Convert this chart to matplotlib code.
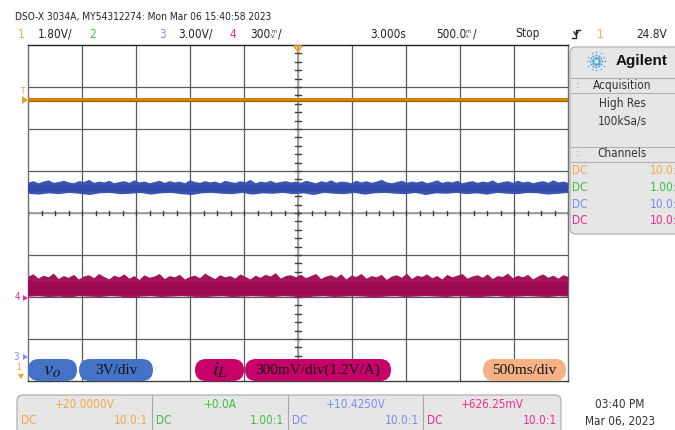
import numpy as np
import matplotlib
matplotlib.use('Agg')
import matplotlib.pyplot as plt
from matplotlib.patches import FancyBboxPatch, Polygon
from matplotlib.transforms import IdentityTransform

W, H = 675, 430

# screen traces, in divisions from centre line (8 div tall, 10 div wide)
t_start, t_stop = 0.5, 5.5          # 500 ms/div, centre 3.000 s
ch1_level = 2.68                    # orange trace (flat)

ch3_core = (0.50, 0.70)             # blue band, dense part
ch3_top = [0.74, 0.77, 0.72, 0.76, 0.79, 0.73, 0.75, 0.78, 0.74, 0.72, 0.77, 0.75, 0.80, 0.73,
           0.76, 0.74, 0.78, 0.72, 0.75, 0.77, 0.73, 0.79, 0.74, 0.76, 0.72, 0.75, 0.78, 0.73,
           0.77, 0.74, 0.76, 0.72, 0.79, 0.75, 0.73, 0.77, 0.74, 0.76, 0.72, 0.78, 0.75, 0.73,
           0.77, 0.74, 0.80, 0.72, 0.76, 0.74, 0.78, 0.73, 0.75, 0.77, 0.74, 0.76, 0.73, 0.78,
           0.75, 0.72, 0.77, 0.74, 0.79, 0.73, 0.76, 0.75, 0.72, 0.78, 0.74, 0.77, 0.73, 0.76,
           0.80, 0.74, 0.72, 0.75, 0.78, 0.73, 0.76, 0.74, 0.77, 0.72, 0.75, 0.79, 0.73, 0.76,
           0.74, 0.78, 0.72, 0.75, 0.77, 0.73, 0.76, 0.74, 0.79, 0.72, 0.75, 0.77, 0.73, 0.78,
           0.74, 0.76, 0.72, 0.75, 0.77, 0.73, 0.79, 0.74, 0.76, 0.73]
ch3_bot = [0.47, 0.45, 0.48, 0.46, 0.49, 0.47, 0.44, 0.48, 0.49, 0.46, 0.47, 0.49, 0.45, 0.48,
           0.49, 0.46, 0.44, 0.48, 0.49, 0.47, 0.46, 0.49, 0.45, 0.48, 0.47, 0.49, 0.46, 0.48,
           0.44, 0.49, 0.47, 0.46, 0.49, 0.45, 0.48, 0.49, 0.47, 0.46, 0.49, 0.44, 0.48, 0.47,
           0.49, 0.46, 0.48, 0.45, 0.49, 0.47, 0.46, 0.49, 0.48, 0.45, 0.47, 0.49]

ch4_core = (-1.96, -1.60)           # magenta band, dense part
ch4_top = [-1.50, -1.45, -1.55, -1.48, -1.52, -1.43, -1.56, -1.49, -1.53, -1.46, -1.57, -1.50,
           -1.47, -1.54, -1.44, -1.51, -1.57, -1.48, -1.52, -1.45, -1.55, -1.49, -1.58, -1.47,
           -1.53, -1.50, -1.44, -1.56, -1.49, -1.52, -1.46, -1.57, -1.51, -1.48, -1.54, -1.43,
           -1.50, -1.56, -1.47, -1.52, -1.49, -1.55, -1.45, -1.51, -1.57, -1.48, -1.53, -1.46,
           -1.50, -1.42, -1.55, -1.49, -1.47, -1.52, -1.46, -1.54, -1.49, -1.44, -1.56, -1.50,
           -1.47, -1.53, -1.45, -1.57, -1.48, -1.51, -1.44, -1.55, -1.49, -1.52, -1.46, -1.58,
           -1.50, -1.47, -1.53, -1.43, -1.56, -1.48, -1.51, -1.45, -1.54, -1.49, -1.57, -1.46,
           -1.52, -1.48, -1.44, -1.55, -1.50, -1.47, -1.53, -1.45, -1.56, -1.49, -1.51, -1.43,
           -1.54, -1.48, -1.52, -1.46, -1.57, -1.50, -1.45, -1.53, -1.48, -1.55, -1.47, -1.51]
ch4_bot = [-1.98, -1.97, -1.99, -1.98, -2.00, -1.97, -1.98, -1.99, -1.97, -1.98, -2.01, -1.98,
           -1.97, -1.99, -1.98, -1.97, -1.98, -2.00, -1.98, -1.97, -1.99, -1.98, -1.97, -1.98,
           -1.99, -1.97, -1.98, -2.01, -1.98, -1.97, -1.99, -1.98, -1.97, -1.98, -2.00, -1.98,
           -1.97, -1.99, -1.98, -1.97, -1.98, -1.99, -1.97, -1.98, -2.00, -1.98, -1.97, -1.99,
           -1.98, -1.97, -1.98, -1.99, -1.97, -1.98]

header = 'DSO-X 3034A, MY54312274: Mon Mar 06 15:40:58 2023'
chan_colors = ['#f5a849', '#3fbf3f', '#7b8ef5', '#ee2d8f']
offsets = ['+20.0000V', '+0.0A', '+10.4250V', '+626.25mV']
probes = ['10.0:1', '1.00:1', '10.0:1', '10.0:1']
channel_ratio = ['10.0:', '1.00:', '10.0:', '10.0:']

NARROW = ['DejaVu Sans']
SERIF = ['Liberation Serif', 'DejaVu Serif']
plt.rcParams['mathtext.fontset'] = 'stix'

fig = plt.figure(figsize=(W / 100, H / 100), dpi=100)
fig.patch.set_facecolor('white')
ID = IdentityTransform()


def px(x, y):
    return x / W, 1 - y / H


def ftext(x, y, s, **kw):
    kw.setdefault('family', NARROW)
    kw.setdefault('fontstretch', 'condensed')
    kw.setdefault('va', 'center')
    fig.text(*px(x, y), s, **kw)


def rbox(x0, y0, x1, y1, r, fc, ec='none', lw=0.0, z=1):
    p = FancyBboxPatch((x0, H - y1), x1 - x0, y1 - y0,
                       boxstyle='round,pad=0,rounding_size=%g' % r,
                       fc=fc, ec=ec, lw=lw, transform=ID, zorder=z)
    fig.patches.append(p)


# ---- scope screen
ax = fig.add_axes([28 / W, (H - 381) / H, 540 / W, 336 / H])
ax.set_xlim(t_start, t_stop)
ax.set_ylim(-4, 4)
ax.set_xticks([])
ax.set_yticks([])
for sp in ax.spines.values():
    sp.set_color('#707070')
    sp.set_linewidth(1.0)
ax.spines['top'].set_color('#202020')
ax.spines['bottom'].set_color('#404040')
for k in range(1, 10):
    ax.axvline(t_start + k * 0.5, color='#5a5a5a', lw=0.9, zorder=1)
for k in range(-3, 4):
    ax.axhline(k, color='#5a5a5a', lw=0.9, zorder=1)
# centre cross with minor ticks
ax.axvline(3.0, color='#a0a0a0', lw=1.3, zorder=1)
ax.axhline(0.0, color='#a0a0a0', lw=1.3, zorder=1)
for k in range(-20, 21):
    y = k * 0.2
    ax.plot([3.0 - 0.025, 3.0 + 0.025], [y, y], color='#404040', lw=1.0, zorder=1)
for k in range(-20, 21):
    x = 3.0 + k * 0.125
    ax.plot([x, x], [-0.05, 0.05], color='#404040', lw=1.0, zorder=1)

# channel 3 (blue)
ax.fill_between([t_start, t_stop], *ch3_core, color='#2f4aa9', lw=0, zorder=3)
ax.fill_between(np.linspace(t_start, t_stop, len(ch3_top)), ch3_core[1] - 0.02, ch3_top,
                color='#3a55b2', lw=0, zorder=3)
ax.fill_between(np.linspace(t_start, t_stop, len(ch3_bot)), ch3_bot, ch3_core[0] + 0.02,
                color='#3a55b2', lw=0, zorder=3)
# channel 4 (magenta)
ax.fill_between([t_start, t_stop], *ch4_core, color='#9c0852', lw=0, zorder=3)
ax.fill_between(np.linspace(t_start, t_stop, len(ch4_top)), ch4_core[1] - 0.02, ch4_top,
                color='#a3145c', lw=0, zorder=3)
ax.fill_between(np.linspace(t_start, t_stop, len(ch4_bot)), ch4_bot, ch4_core[0] + 0.02,
                color='#a3145c', lw=0, zorder=3)
# channel 1 (orange)
ax.plot([t_start, t_stop], [ch1_level, ch1_level], color='#cf8410', lw=3.0, zorder=4,
        solid_capstyle='butt')
ax.plot([t_start, t_stop], [ch1_level - 0.015, ch1_level - 0.015], color='#a06208', lw=0.8,
        zorder=4, solid_capstyle='butt')

# ---- ground / trigger markers
fig.patches.append(Polygon([[294, H - 46], [302, H - 46], [298, H - 52]], closed=True,
                           fc='none', ec='#f0a030', lw=1.2, transform=ID))
ftext(22, 92, 'T', color='#f0a030', fontsize=6, ha='center')
fig.patches.append(Polygon([[22, H - 96], [22, H - 104], [28, H - 100]], closed=True,
                           fc='#f0a030', ec='none', transform=ID))
ftext(17, 297, '4', color='#ee2d8f', fontsize=7, ha='center')
fig.patches.append(Polygon([[23, H - 295], [23, H - 301], [28, H - 298]], closed=True,
                           fc='#ee2d8f', ec='none', transform=ID))
ftext(16, 357, '3', color='#7b8ef5', fontsize=7, ha='center')
fig.patches.append(Polygon([[23, H - 354], [23, H - 360], [28, H - 357]], closed=True,
                           fc='#7b8ef5', ec='none', transform=ID))
ftext(19, 367, '1', color='#f0a030', fontsize=6, ha='center')
fig.patches.append(Polygon([[18, H - 374], [24, H - 374], [21, H - 379]], closed=True,
                           fc='#f0a030', ec='none', transform=ID))

# ---- header text
ftext(15, 17, header, color='#222222', fontsize=7.3, ha='left')
ftext(18, 34, '1', color=chan_colors[0], fontsize=8.5, ha='left')
ftext(38, 34, '1.80V/', color='#222222', fontsize=8.5, ha='left')
ftext(89, 34, '2', color=chan_colors[1], fontsize=8.5, ha='left')
ftext(159, 34, '3', color=chan_colors[2], fontsize=8.5, ha='left')
ftext(178, 34, '3.00V/', color='#222222', fontsize=8.5, ha='left')
ftext(230, 34, '4', color=chan_colors[3], fontsize=8.5, ha='left')
ftext(250, 34, '300', color='#222222', fontsize=8.5, ha='left')
ftext(271, 34, 'm\nV', color='#222222', fontsize=4, ha='left', linespacing=1.0)
ftext(278, 34, '/', color='#222222', fontsize=8.5, ha='left')
ftext(370, 34, '3.000s', color='#222222', fontsize=8.5, ha='left')
ftext(436, 34, '500.0', color='#222222', fontsize=8.5, ha='left')
ftext(466, 34, 'm\ns', color='#222222', fontsize=4, ha='left', linespacing=1.0)
ftext(473, 34, '/', color='#222222', fontsize=8.5, ha='left')
ftext(515, 34, 'Stop', color='#222222', fontsize=8.5, ha='left')
fig.lines.append(plt.Line2D([572, 576, 576, 580], [H - 38, H - 38, H - 30, H - 30],
                            color='#222222', lw=1.0, transform=ID))
fig.lines.append(plt.Line2D([574, 576, 578], [H - 32, H - 35, H - 32],
                            color='#222222', lw=1.0, transform=ID))
ftext(597, 34, '1', color=chan_colors[0], fontsize=8.5, ha='left')
ftext(636, 34, '24.8V', color='#222222', fontsize=8.5, ha='left')

# ---- right side panel
rbox(570, 47, 700, 234, 6, '#e6e6e6', '#a8a8a8', 0.8)
for yy in [78, 93, 147, 162]:
    fig.lines.append(plt.Line2D([571, 675], [H - yy, H - yy], color='#b0b0b0', lw=0.8,
                                transform=ID))
# star logo
cx, cy = 596, H - 61
for ang in np.arange(0, 360, 30):
    for rr, ms in [(3, 1.6), (6, 1.4), (9, 1.0)]:
        fig.lines.append(plt.Line2D([cx + rr * np.cos(np.radians(ang))],
                                    [cy + rr * np.sin(np.radians(ang))],
                                    marker='o', ms=ms, mew=0, color='#3aa0d8',
                                    transform=ID))
ftext(616, 61, 'Agilent', color='#111111', fontsize=11, fontweight='bold', ha='left',
      fontstretch='normal', family=['Liberation Sans', 'DejaVu Sans'])
ftext(575, 86, '::', color='#888888', fontsize=6, ha='left')
ftext(622, 86, 'Acquisition', color='#333333', fontsize=8.5, ha='center')
ftext(622, 104, 'High Res', color='#333333', fontsize=8.5, ha='center')
ftext(622, 121, '100kSa/s', color='#333333', fontsize=8.5, ha='center')
ftext(575, 154, '::', color='#888888', fontsize=6, ha='left')
ftext(622, 154, 'Channels', color='#333333', fontsize=8.5, ha='center')
for i in range(4):
    yy = 171 + i * 16.5
    ftext(572, yy, 'DC', color=chan_colors[i], fontsize=8.5, ha='left')
    ftext(677, yy, channel_ratio[i], color=chan_colors[i], fontsize=8.5, ha='right')

# ---- bottom channel info panel
rbox(17, 395, 561, 445, 6, '#e6e6e6', '#a8a8a8', 0.8)
for xx in [152, 288, 423]:
    fig.lines.append(plt.Line2D([xx, xx], [0, H - 395], color='#a8a8a8', lw=0.8,
                                transform=ID))
cells = [(17, 152), (152, 288), (288, 423), (423, 561)]
for i, (a, b) in enumerate(cells):
    ftext((a + b) / 2, 404, offsets[i], color=chan_colors[i], fontsize=8.5, ha='center')
    ftext(a + 4, 421, 'DC', color=chan_colors[i], fontsize=8.5, ha='left')
    ftext(b - 4, 421, probes[i], color=chan_colors[i], fontsize=8.5, ha='right')
ftext(620, 404, '03:40 PM', color='#333333', fontsize=8.5, ha='center')
ftext(620, 421, 'Mar 06, 2023', color='#333333', fontsize=8.5, ha='center')

# ---- annotation pills
pills = [(28, 77, '#4472c4', r'$v_o$', 15),
         (79, 153, '#4472c4', '3V/div', 11),
         (195, 244, '#c8006a', r'$i_L$', 15),
         (245, 391, '#c8006a', '300mV/div(1.2V/A)', 11),
         (483, 566, '#f4b183', '500ms/div', 11)]
for x0, x1, col, s, fs in pills:
    rbox(x0, 359, x1, 381, 11, col, z=5)
    ftext((x0 + x1) / 2, 370.5, s, color='#111111', fontsize=fs, ha='center',
          family=SERIF, fontstretch='normal', zorder=6)

fig.savefig('out.png', dpi=100)
